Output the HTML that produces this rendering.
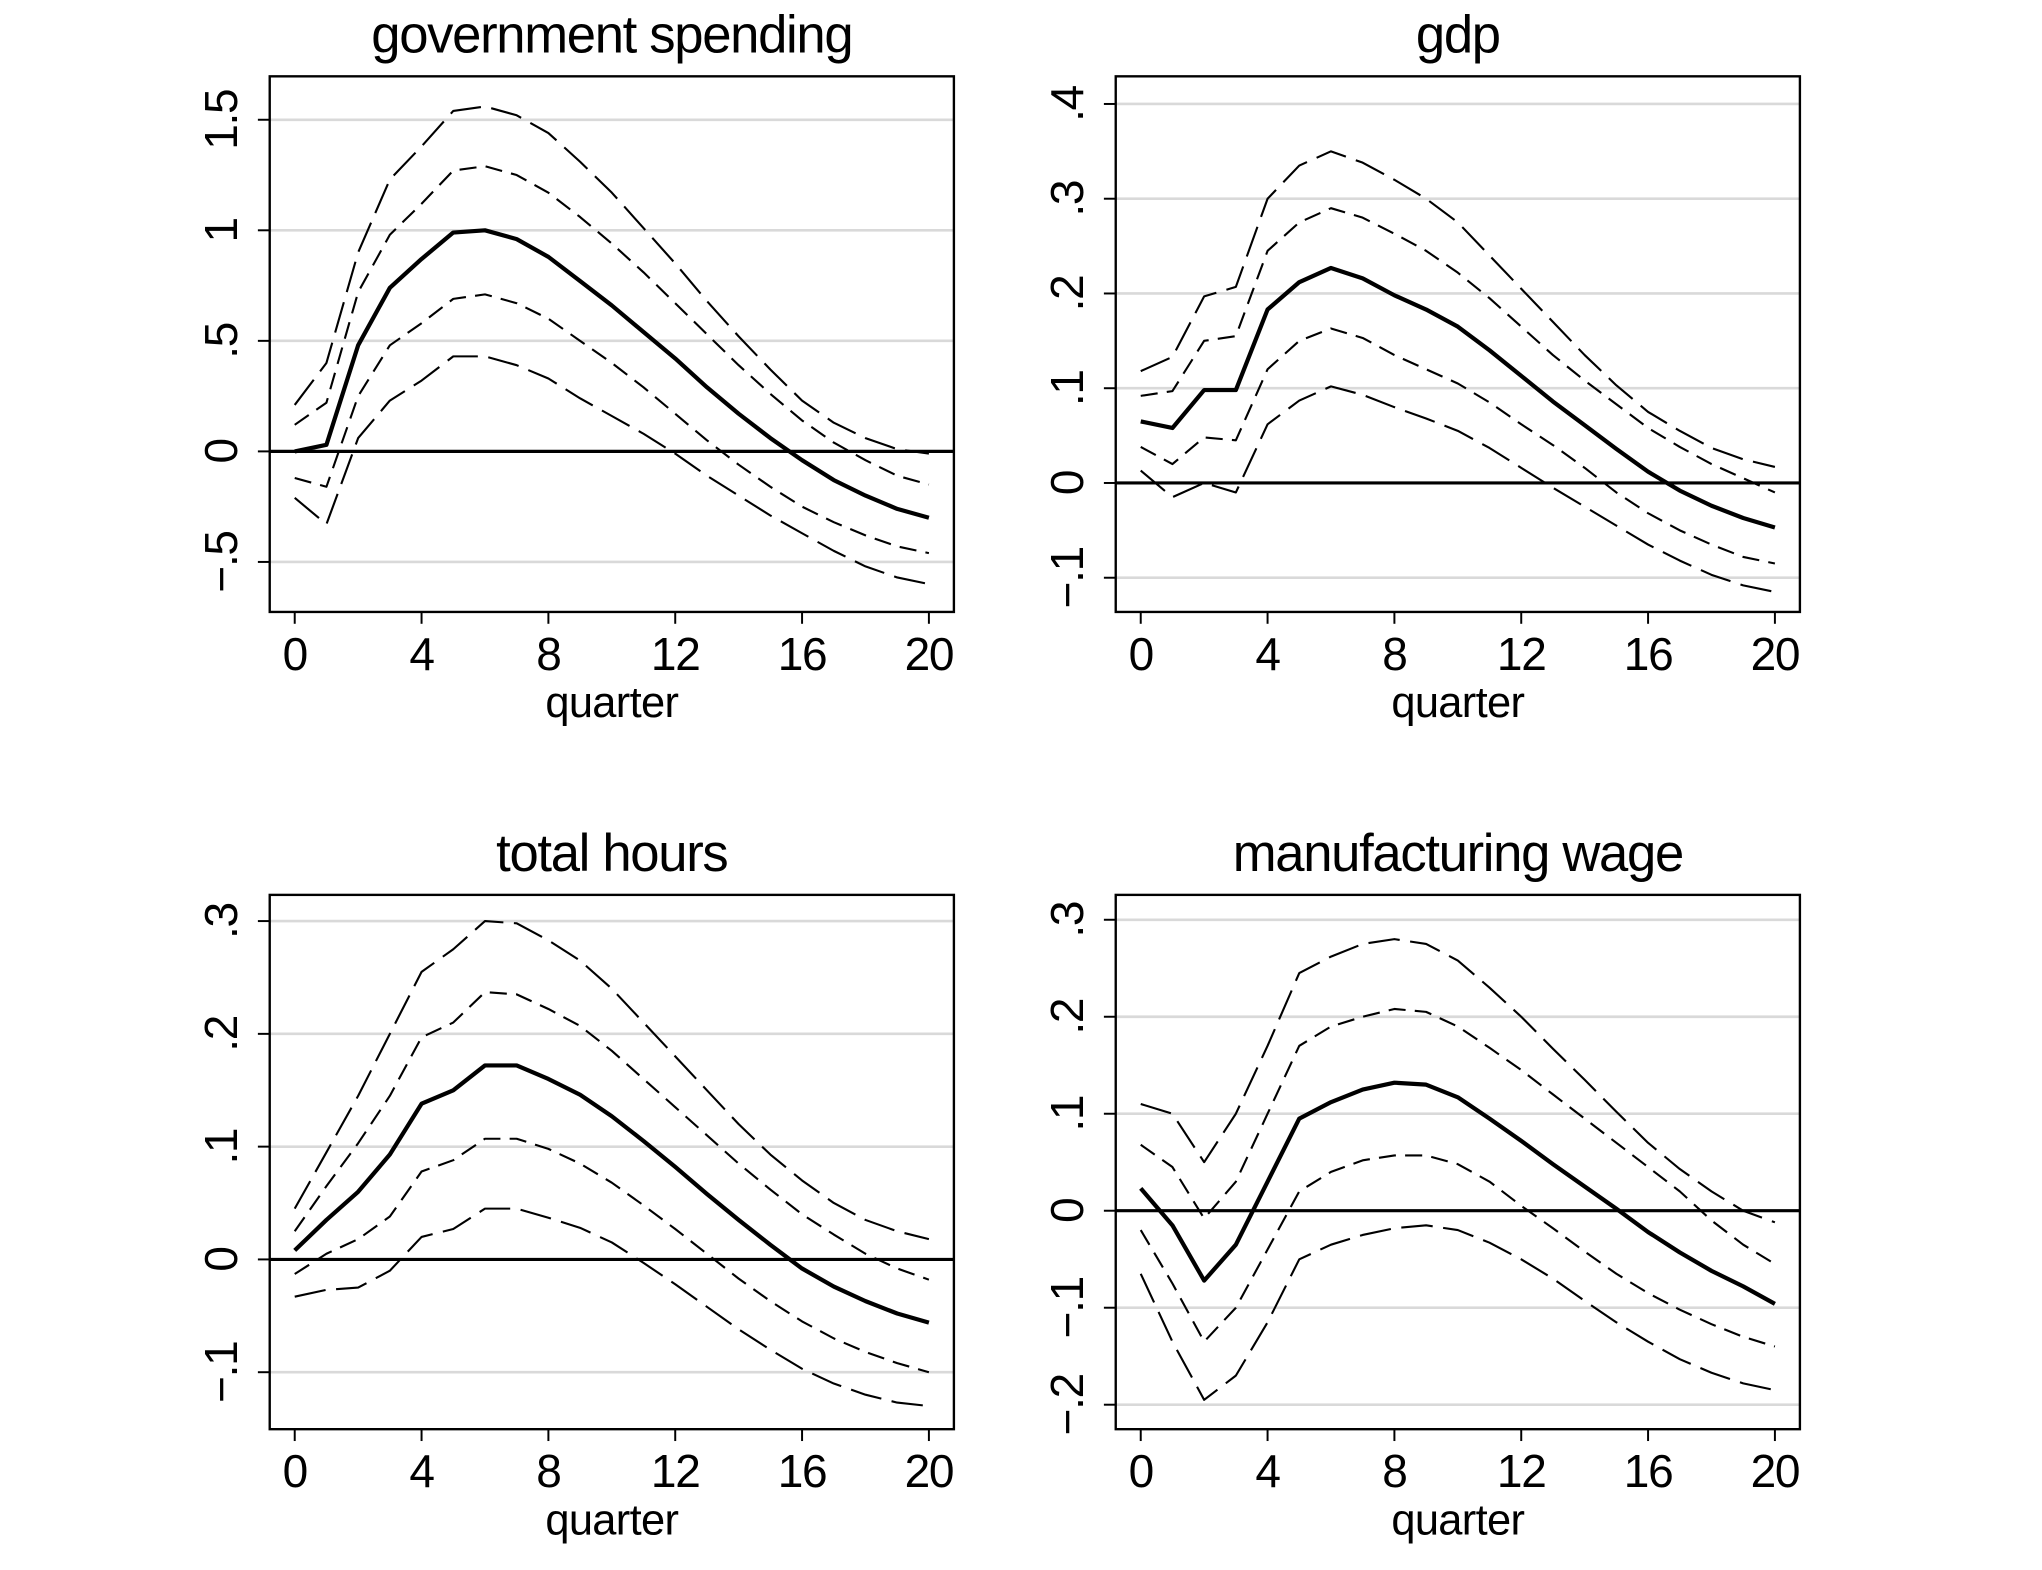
<!DOCTYPE html>
<html><head><meta charset="utf-8"><title>Impulse responses</title>
<style>html,body{margin:0;padding:0;background:#fff;}svg{display:block;}</style></head>
<body>
<svg id="fig" width="2042" height="1570" viewBox="0 0 1552 1193" preserveAspectRatio="none" xmlns="http://www.w3.org/2000/svg" font-family="'Liberation Sans', sans-serif"></svg>
<script>
const quarters = [0,1,2,3,4,5,6,7,8,9,10,11,12,13,14,15,16,17,18,19,20];
const xTicks = [0,4,8,12,16,20];

const govMean = [0.0,0.03,0.48,0.74,0.87,0.99,1.0,0.96,0.88,0.77,0.66,0.54,0.42,0.29,0.17,0.06,-0.04,-0.13,-0.20,-0.26,-0.30];
const govInUp = [0.12,0.22,0.72,0.98,1.12,1.27,1.29,1.25,1.17,1.06,0.94,0.81,0.67,0.53,0.39,0.26,0.14,0.04,-0.04,-0.11,-0.15];
const govInLo = [-0.12,-0.16,0.25,0.48,0.58,0.69,0.71,0.67,0.60,0.50,0.40,0.29,0.17,0.05,-0.06,-0.16,-0.25,-0.32,-0.38,-0.43,-0.46];
const govOutUp = [0.21,0.40,0.90,1.23,1.38,1.54,1.56,1.52,1.44,1.31,1.17,1.01,0.85,0.68,0.52,0.37,0.23,0.13,0.06,0.01,-0.01];
const govOutLo = [-0.21,-0.33,0.06,0.23,0.32,0.43,0.43,0.39,0.33,0.24,0.16,0.08,-0.01,-0.11,-0.20,-0.29,-0.37,-0.45,-0.52,-0.57,-0.60];
const govTicks = [-0.5,0,0.5,1,1.5];
const govTickLabels = ["\u2212.5","0",".5","1","1.5"];

const gdpMean = [.065,.058,.098,.098,.183,.212,.227,.216,.198,.183,.165,.14,.113,.086,.061,.036,.012,-.008,-.024,-.037,-.047];
const gdpInUp = [.092,.097,.15,.155,.245,.275,.29,.28,.263,.245,.222,.195,.165,.135,.108,.083,.058,.038,.02,.005,-.01];
const gdpInLo = [.038,.02,.048,.045,.12,.15,.163,.153,.135,.12,.105,.085,.062,.04,.016,-.01,-.032,-.05,-.065,-.078,-.085];
const gdpOutUp = [.118,.133,.197,.207,.3,.335,.35,.338,.32,.3,.275,.24,.205,.17,.135,.103,.075,.055,.037,.025,.017];
const gdpOutLo = [.013,-.015,.0,-.01,.062,.087,.102,.093,.08,.068,.055,.037,.016,-.005,-.025,-.045,-.065,-.082,-.097,-.108,-.115];
const gdpTicks = [-0.1,0,0.1,0.2,0.3,0.4];
const gdpTickLabels = ["\u2212.1","0",".1",".2",".3",".4"];

const hrsMean = [.008,.035,.06,.093,.138,.15,.172,.172,.16,.146,.127,.105,.082,.058,.035,.013,-.008,-.024,-.037,-.048,-.056];
const hrsInUp = [.025,.065,.103,.145,.197,.21,.237,.235,.222,.207,.185,.16,.135,.11,.085,.062,.04,.022,.005,-.008,-.018];
const hrsInLo = [-.013,.005,.018,.038,.078,.088,.107,.107,.098,.085,.068,.048,.027,.005,-.017,-.037,-.055,-.07,-.082,-.092,-.1];
const hrsOutUp = [.045,.095,.145,.2,.255,.275,.3,.298,.283,.265,.24,.21,.18,.15,.12,.093,.07,.05,.035,.025,.018];
const hrsOutLo = [-.033,-.027,-.025,-.01,.02,.027,.045,.045,.037,.028,.015,-.003,-.022,-.042,-.062,-.08,-.097,-.11,-.12,-.127,-.13];
const hrsTicks = [-0.1,0,0.1,0.2,0.3];
const hrsTickLabels = ["\u2212.1","0",".1",".2",".3"];

const wageMean = [.023,-.015,-.072,-.035,.03,.095,.112,.125,.132,.13,.117,.095,.072,.048,.025,.002,-.022,-.043,-.062,-.078,-.096];
const wageInUp = [.068,.045,-.008,.03,.1,.17,.19,.2,.208,.205,.19,.168,.145,.12,.095,.07,.045,.02,-.01,-.035,-.055];
const wageInLo = [-.02,-.075,-.135,-.1,-.04,.02,.04,.052,.057,.057,.048,.03,.005,-.018,-.042,-.065,-.085,-.102,-.117,-.13,-.14];
const wageOutUp = [.11,.1,.05,.1,.17,.245,.262,.275,.28,.275,.258,.23,.2,.167,.135,.102,.07,.043,.02,.0,-.012];
const wageOutLo = [-.065,-.135,-.195,-.17,-.115,-.05,-.035,-.025,-.018,-.015,-.02,-.033,-.05,-.07,-.093,-.115,-.135,-.153,-.167,-.178,-.185];
const wageTicks = [-0.2,-0.1,0,0.1,0.2,0.3];
const wageTickLabels = ["\u2212.2","\u2212.1","0",".1",".2",".3"];

const NS = "http://www.w3.org/2000/svg";
const svg = document.getElementById('fig');
function mk(tag, attrs, parent){
  const e = document.createElementNS(NS, tag);
  for (const k in attrs) e.setAttribute(k, attrs[k]);
  (parent||svg).appendChild(e);
  return e;
}

function panel(cfg){
  const g = mk('g', {});
  
  
  const xs = v => cfg.x0 + (v - 0) / 20 * (cfg.x20 - cfg.x0);
  const ys = v => cfg.yZero - v * cfg.pxPerUnit;
  cfg.ticks.forEach((t,i) => {
    if (t !== 0) {
      const gl = mk('line', {x1:cfg.bx1, x2:cfg.bx2, y1:ys(t), y2:ys(t), stroke:'#d9d9d9', 'stroke-width':2}, g);
      
      
    }
    const tk = mk('line', {x1:cfg.bx1-9, x2:cfg.bx1, y1:ys(t), y2:ys(t), stroke:'#000', 'stroke-width':1.5}, g);
    
    
    const y = ys(t);
    const lb = mk('text', {x:cfg.bx1-25, y:y, 'font-size':35, 'text-anchor':'middle', 'letter-spacing':'-1', transform:`rotate(-90 ${cfg.bx1-25} ${y})`}, g);
    lb.textContent = cfg.tickLabels[i];
    
    
  });
  const zl = mk('line', {x1:cfg.bx1, x2:cfg.bx2, y1:ys(0), y2:ys(0), stroke:'#000', 'stroke-width':2.4}, g);
  
  
  xTicks.forEach(t => {
    const tk = mk('line', {x1:xs(t), x2:xs(t), y1:cfg.by2, y2:cfg.by2+9, stroke:'#000', 'stroke-width':1.5}, g);
    
    
    const lb = mk('text', {x:xs(t), y:cfg.by2+44, 'font-size':35, 'text-anchor':'middle', 'letter-spacing':'-1'}, g);
    lb.textContent = String(t);
    
    
  });
  const xt = mk('text', {x:(cfg.bx1+cfg.bx2)/2, y:cfg.by2+80, 'font-size':33, 'text-anchor':'middle', 'letter-spacing':'-0.5'}, g);
  xt.textContent = 'quarter';
  
  
  const tt = mk('text', {x:(cfg.bx1+cfg.bx2)/2, y:cfg.by1-18, 'font-size':40, 'text-anchor':'middle', 'letter-spacing':'-1'}, g);
  tt.textContent = cfg.title;
  
  
  const series = [
    [cfg.outUp, 'outer-upper-band', '24 8', 1.6],
    [cfg.outLo, 'outer-lower-band', '24 8', 1.6],
    [cfg.inUp, 'inner-upper-band', '13 7', 1.6],
    [cfg.inLo, 'inner-lower-band', '13 7', 1.6],
    [cfg.mean, 'point-estimate-line', 'none', 3.2]
  ];
  series.forEach(s => {
    const pts = quarters.map((q,i) => xs(q).toFixed(1) + ',' + ys(s[0][i]).toFixed(1)).join(' ');
    const p = mk('polyline', {points:pts, fill:'none', stroke:'#000', 'stroke-width':s[3], 'stroke-dasharray':s[2], 'stroke-linejoin':'round'}, g);
    
    
  });
  const box = mk('rect', {x:cfg.bx1, y:cfg.by1, width:cfg.bx2-cfg.bx1, height:cfg.by2-cfg.by1, fill:'none', stroke:'#000', 'stroke-width':1.8}, g);
  
  
}

panel({name:'government-spending', title:'government spending', bx1:205, bx2:725, by1:58, by2:465, x0:224, x20:706, yZero:343, pxPerUnit:168,
  ticks:govTicks, tickLabels:govTickLabels, mean:govMean, inUp:govInUp, inLo:govInLo, outUp:govOutUp, outLo:govOutLo});
panel({name:'gdp', title:'gdp', bx1:848, bx2:1368, by1:58, by2:465, x0:867, x20:1349, yZero:367, pxPerUnit:720,
  ticks:gdpTicks, tickLabels:gdpTickLabels, mean:gdpMean, inUp:gdpInUp, inLo:gdpInLo, outUp:gdpOutUp, outLo:gdpOutLo});
panel({name:'total-hours', title:'total hours', bx1:205, bx2:725, by1:680, by2:1086, x0:224, x20:706, yZero:957, pxPerUnit:857,
  ticks:hrsTicks, tickLabels:hrsTickLabels, mean:hrsMean, inUp:hrsInUp, inLo:hrsInLo, outUp:hrsOutUp, outLo:hrsOutLo});
panel({name:'manufacturing-wage', title:'manufacturing wage', bx1:848, bx2:1368, by1:680, by2:1086, x0:867, x20:1349, yZero:920, pxPerUnit:737,
  ticks:wageTicks, tickLabels:wageTickLabels, mean:wageMean, inUp:wageInUp, inLo:wageInLo, outUp:wageOutUp, outLo:wageOutLo});
</script>
</body></html>
